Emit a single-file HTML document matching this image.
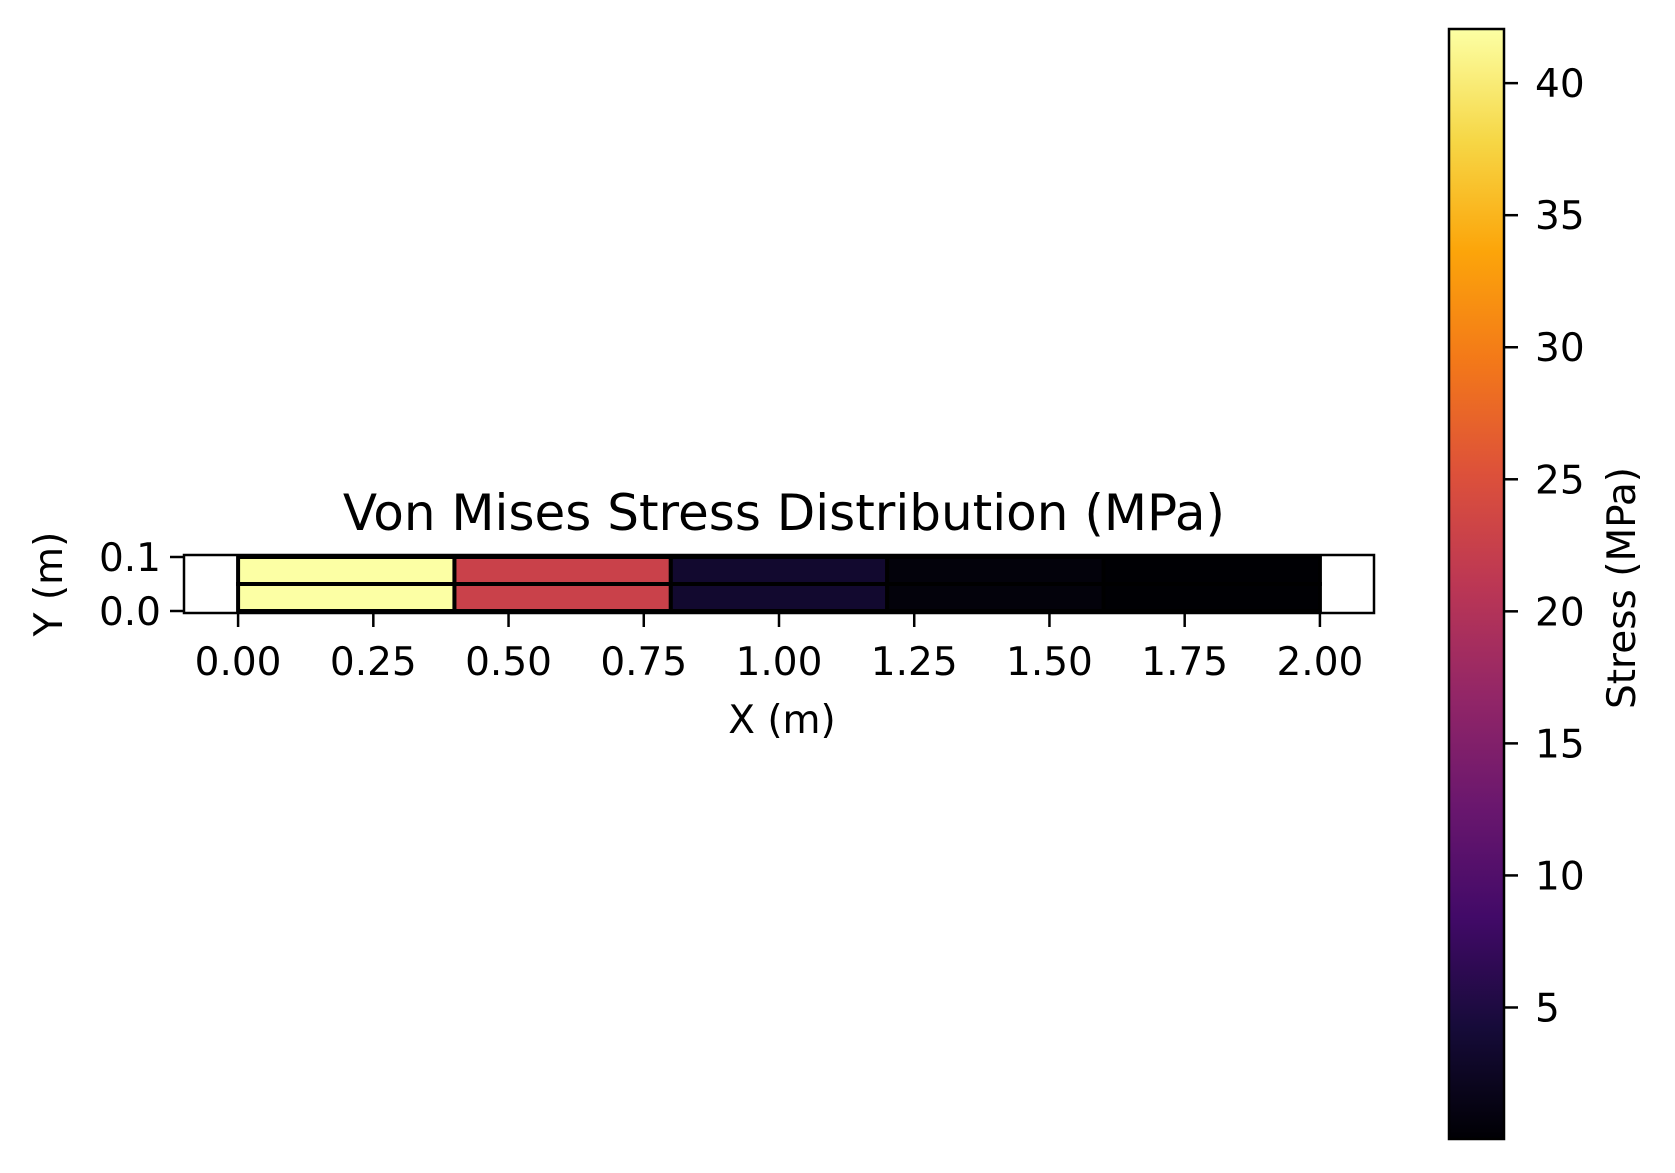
<!DOCTYPE html>
<html><head><meta charset="utf-8"><style>
html,body{margin:0;padding:0;background:#fff;}
svg text{font-family:"DejaVu Sans","Liberation Sans",sans-serif;fill:#000;}
</style></head><body>
<svg id="chart" width="1675" height="1168" viewBox="0 0 1675 1168" xmlns="http://www.w3.org/2000/svg">
<defs>
<linearGradient id="inferno" x1="0" y1="1" x2="0" y2="0">
<stop offset="0" stop-color="#000004"/><stop offset="0.1" stop-color="#160b39"/><stop offset="0.2" stop-color="#420a68"/><stop offset="0.3" stop-color="#6a176e"/><stop offset="0.4" stop-color="#932667"/><stop offset="0.5" stop-color="#bc3754"/><stop offset="0.6" stop-color="#dd513a"/><stop offset="0.7" stop-color="#f37819"/><stop offset="0.8" stop-color="#fca50a"/><stop offset="0.9" stop-color="#f6d746"/><stop offset="1" stop-color="#fcffa4"/>
</linearGradient>
</defs>
<text x="784" y="530" font-size="50" text-anchor="middle">Von Mises Stress Distribution (MPa)</text>
<g id="cells"></g>
<rect x="184" y="555" width="1190" height="58" fill="none" stroke="#000" stroke-width="2.5"/>
<g id="axes"></g>
<text x="782" y="733" font-size="39" text-anchor="middle">X (m)</text>
<text transform="translate(62,584) rotate(-90)" font-size="39" text-anchor="middle">Y (m)</text>
<rect x="1449" y="29" width="55" height="1110" fill="url(#inferno)" stroke="#000" stroke-width="2.5"/>
<g id="cbticks"></g>
<text transform="translate(1635,588) rotate(-90)" font-size="39" text-anchor="middle">Stress (MPa)</text>
</svg>
<script>
const colXStarts = [0, 0.4, 0.8, 1.2, 1.6];
const rowYStarts = [0, 0.05];
const cellWidth = 0.4, cellHeight = 0.05;
const stressTop = [42.05, 22.7, 3.4, 0.6, 0.05];
const stressBottom = [42.05, 22.7, 3.4, 0.6, 0.05];
const xTicks = [0, 0.25, 0.5, 0.75, 1.0, 1.25, 1.5, 1.75, 2.0];
const xTickLabels = ["0.00","0.25","0.50","0.75","1.00","1.25","1.50","1.75","2.00"];
const yTicks = [0, 0.1];
const yTickLabels = ["0.0","0.1"];
const cbTicks = [5,10,15,20,25,30,35,40];
const vmin = 0.02, vmax = 42.05;

const NS = "http://www.w3.org/2000/svg";
const xs = v => 184 + (v + 0.1) / 2.2 * 1190;
const ys = v => 613 - (v + 0.0037) / 0.1074 * 58;
const cs = v => 1139 - (v - vmin) / (vmax - vmin) * 1110;
const stops = ["#000004","#160b39","#420a68","#6a176e","#932667","#bc3754","#dd513a","#f37819","#fca50a","#f6d746","#fcffa4"];
function hex(h){return [1,3,5].map(i=>parseInt(h.substr(i,2),16));}
function cmap(v){
  let t = Math.max(0, Math.min(1, (v - vmin) / (vmax - vmin))) * 10;
  let i = Math.min(9, Math.floor(t)), f = t - i;
  const a = hex(stops[i]), b = hex(stops[i+1]);
  return "rgb(" + a.map((c,k)=>Math.round(c + (b[k]-c)*f)).join(",") + ")";
}
function mk(tag, attrs, parent){
  const e = document.createElementNS(NS, tag);
  for (const k in attrs) e.setAttribute(k, attrs[k]);
  parent.appendChild(e); return e;
}
const cells = document.getElementById("cells");
rowYStarts.forEach((y0, r) => {
  const vals = r === 0 ? stressBottom : stressTop;
  colXStarts.forEach((x0, c) => {
    const el = mk("rect", {x: xs(x0), y: ys(y0 + cellHeight), width: xs(x0 + cellWidth) - xs(x0), height: ys(y0) - ys(y0 + cellHeight), fill: cmap(vals[c]), stroke: "#000", "stroke-width": 4}, cells);
    
    
  });
});
const axes = document.getElementById("axes");
xTicks.forEach((v, i) => {
  const t = mk("line", {x1: xs(v), x2: xs(v), y1: 613, y2: 627, stroke: "#000", "stroke-width": 2.5}, axes);
  
  
  const l = mk("text", {x: xs(v), y: 675, "font-size": 39, "text-anchor": "middle"}, axes);
  l.textContent = xTickLabels[i];
  
  
});
yTicks.forEach((v, i) => {
  const t = mk("line", {x1: 170, x2: 184, y1: ys(v), y2: ys(v), stroke: "#000", "stroke-width": 2.5}, axes);
  
  
  const l = mk("text", {x: 161, y: ys(v) + 14, "font-size": 39, "text-anchor": "end"}, axes);
  l.textContent = yTickLabels[i];
  
  
});
const cb = document.getElementById("cbticks");
cbTicks.forEach(v => {
  const t = mk("line", {x1: 1504, x2: 1518, y1: cs(v), y2: cs(v), stroke: "#000", "stroke-width": 2.5}, cb);
  
  
  const l = mk("text", {x: 1535, y: cs(v) + 14, "font-size": 39}, cb);
  l.textContent = String(v);
  
  
});
</script>
</body></html>
